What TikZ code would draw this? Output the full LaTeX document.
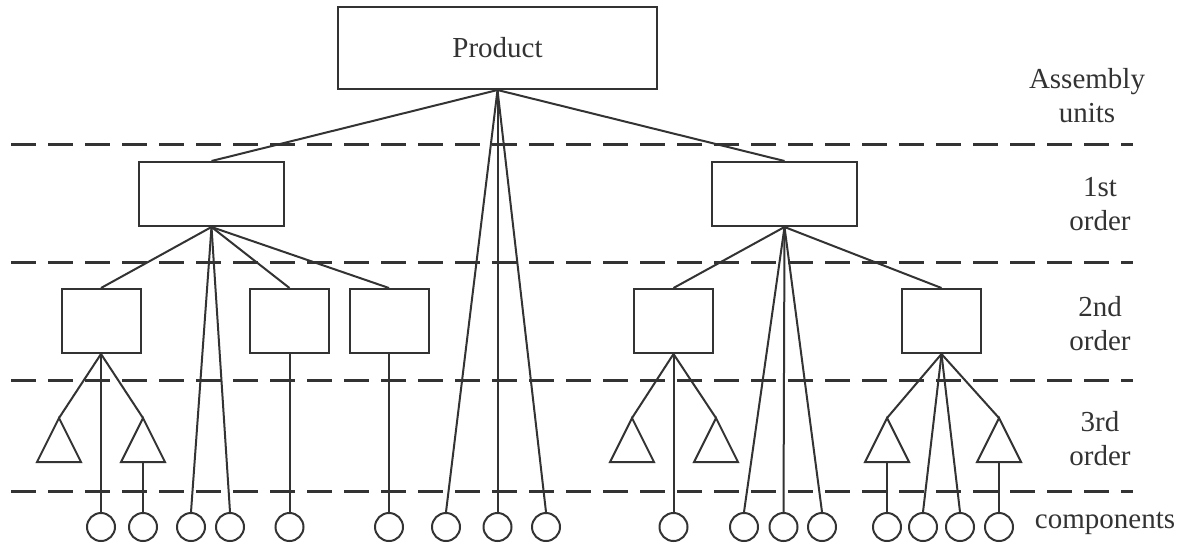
\documentclass[tikz,border=0pt]{standalone}
\usepackage{fontspec}
\setmainfont{Liberation Serif}
\definecolor{ink}{RGB}{51,51,51}
\begin{document}
\begin{tikzpicture}[x=1pt,y=-1pt,
  line width=2pt, draw=ink, text=ink,
  box/.style={draw=ink, line width=2pt, rectangle, inner sep=0pt},
  comp/.style={draw=ink, line width=2pt, circle, inner sep=0pt, minimum size=28pt},
  link/.style={draw=ink, line width=2pt},
  level/.style={draw=ink, line width=3pt, dash pattern=on 25pt off 12pt},
  lab/.style={font=\fontsize{29}{34}\selectfont, align=center, inner sep=0pt},
  tri/.style={draw=ink, line width=2pt, line join=miter}]
\useasboundingbox (0,0) rectangle (1182,547);

% level separators
\foreach \yy/\nm in {144/a,262/b,380/c,491/d}{
  \coordinate (ls\nm) at (11,\yy);
  \coordinate (le\nm) at (1133,\yy);
  \draw[level] (ls\nm) -- (le\nm);
}

% labels
\node[lab] (lbA) at (1087,96) {Assembly\\units};
\node[lab] (lb1) at (1100,204) {1st\\order};
\node[lab] (lb2) at (1100,324) {2nd\\order};
\node[lab] (lb3) at (1100,439) {3rd\\order};
\node[lab] (lbC) at (1105,523) {components};

% product
\node[box, minimum width=319pt, minimum height=82pt, font=\fontsize{29}{34}\selectfont] (P) at (497.5,48) {Product};

% 1st order
\node[box, minimum width=145pt, minimum height=64pt] (A) at (211.5,194) {};
\node[box, minimum width=145pt, minimum height=64pt] (B) at (784.5,194) {};

% 2nd order
\node[box, minimum width=79pt, minimum height=64pt] (A1) at (101,321) {};
\node[box, minimum width=79pt, minimum height=64pt] (A2) at (289.5,321) {};
\node[box, minimum width=79pt, minimum height=64pt] (A3) at (389,321) {};
\node[box, minimum width=79pt, minimum height=64pt] (B1) at (673.5,321) {};
\node[box, minimum width=79pt, minimum height=64pt] (B2) at (941.5,321) {};

% 3rd order triangles (apex / base middle)
\foreach \nm/\xx in {T1/59,T2/143,T3/632,T4/716,T5/887,T6/999}{
  \coordinate (\nm) at (\xx,418);
  \coordinate (\nm b) at (\xx,462);
  \draw[tri] (\nm) -- ++(-22,44) -- ++(44,0) -- cycle;
}

% components
\foreach \nm/\xx in {c1/101,c2/143,c3/191,c4/230,c5/289.5,c6/389,c7/446,c8/497.5,c9/546,c10/673.5,c11/744,c12/783.5,c13/822,c14/887,c15/923,c16/960,c17/999}{
  \node[comp] (\nm) at (\xx,527) {};
}

% connectors
\draw[link] (P.south) -- (A.north);
\draw[link] (P.south) -- (B.north);
\draw[link] (P.south) -- (c7.north);
\draw[link] (P.south) -- (c8.north);
\draw[link] (P.south) -- (c9.north);

\draw[link] (A.south) -- (A1.north);
\draw[link] (A.south) -- (A2.north);
\draw[link] (A.south) -- (A3.north);
\draw[link] (A.south) -- (c3.north);
\draw[link] (A.south) -- (c4.north);

\draw[link] (B.south) -- (B1.north);
\draw[link] (B.south) -- (B2.north);
\draw[link] (B.south) -- (c11.north);
\draw[link] (B.south) -- (c12.north);
\draw[link] (B.south) -- (c13.north);

\draw[link] (A1.south) -- (T1);
\draw[link] (A1.south) -- (T2);
\draw[link] (A1.south) -- (c1.north);
\draw[link] (T2b) -- (c2.north);
\draw[link] (A2.south) -- (c5.north);
\draw[link] (A3.south) -- (c6.north);

\draw[link] (B1.south) -- (T3);
\draw[link] (B1.south) -- (T4);
\draw[link] (B1.south) -- (c10.north);

\draw[link] (B2.south) -- (T5);
\draw[link] (B2.south) -- (T6);
\draw[link] (B2.south) -- (c15.north);
\draw[link] (B2.south) -- (c16.north);
\draw[link] (T5b) -- (c14.north);
\draw[link] (T6b) -- (c17.north);
\end{tikzpicture}
\end{document}
